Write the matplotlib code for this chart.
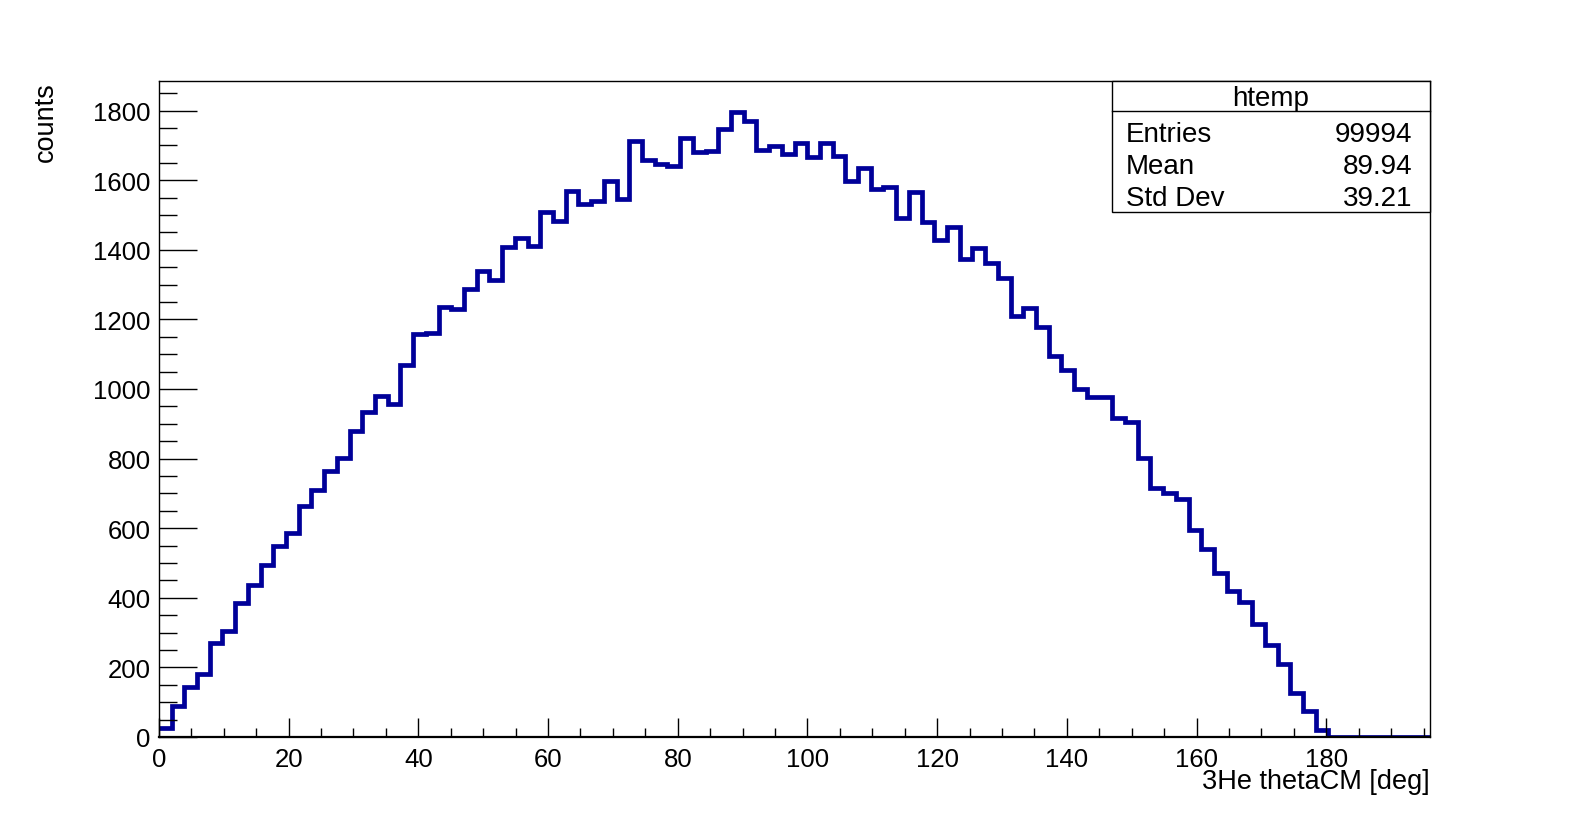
import numpy as np
import matplotlib
matplotlib.use("Agg")
import matplotlib.pyplot as plt
from matplotlib.patches import Rectangle
from matplotlib.lines import Line2D
from matplotlib.ticker import MultipleLocator

plt.rcParams['font.family'] = ['Liberation Sans', 'DejaVu Sans']

# ---------------------------
# histogram data (100 bins)
# ---------------------------
x_min, x_max, n_bins = 0.0, 196.0, 100
counts = [
    26, 90, 144, 181, 270, 306, 385, 438, 495, 550,
    587, 665, 711, 764, 802, 879, 935, 979, 957, 1069,
    1157, 1160, 1237, 1229, 1287, 1339, 1313, 1407, 1433, 1412,
    1510, 1483, 1570, 1532, 1541, 1599, 1546, 1712, 1657, 1646,
    1640, 1720, 1680, 1684, 1746, 1796, 1770, 1686, 1697, 1675,
    1707, 1666, 1707, 1670, 1597, 1634, 1576, 1580, 1491, 1566,
    1479, 1428, 1465, 1373, 1406, 1361, 1318, 1210, 1233, 1179,
    1095, 1055, 1001, 978, 976, 918, 906, 802, 716, 700,
    683, 596, 541, 472, 420, 389, 325, 263, 210, 127,
    76, 21, 0, 0, 0, 0, 0, 0, 0, 0,
]
hist_name = "htemp"
stat_labels = ["Entries", "Mean", "Std Dev"]
stat_values = ["99994", "89.94", "39.21"]
x_label = "3He thetaCM [deg]"
y_label = "counts"

edges = np.linspace(x_min, x_max, n_bins + 1)

# ---------------------------
# figure, ROOT-like frame
# ---------------------------
W, H = 1589, 820
fig = plt.figure(figsize=(W / 100, H / 100), dpi=100)
ax = fig.add_axes([0.1, 0.1, 0.8, 0.8])

ax.stairs(counts, edges, baseline=None, color='#000099', linewidth=3.4)

ax.set_xlim(x_min, x_max)
ax.set_ylim(0, 1885)

for side in ['top', 'right', 'left', 'bottom']:
    ax.spines[side].set_linewidth(1.0)
    ax.spines[side].set_color('black')
ax.spines['bottom'].set_linewidth(1.6)

ax.xaxis.set_major_locator(MultipleLocator(20))
ax.xaxis.set_minor_locator(MultipleLocator(5))
ax.yaxis.set_major_locator(MultipleLocator(200))
ax.yaxis.set_minor_locator(MultipleLocator(50))

ax.tick_params(axis='x', which='major', direction='in', length=13.7, width=1.0,
               labelsize=18.5, pad=7)
ax.tick_params(axis='x', which='minor', direction='in', length=6.5, width=1.0)
ax.tick_params(axis='y', which='major', direction='in', length=27, width=1.0,
               labelsize=18.5, pad=6)
ax.tick_params(axis='y', which='minor', direction='in', length=13, width=1.0)

# axis titles placed like ROOT (right / top aligned)
fig.text(0.9, 1 - 782 / H, x_label, ha='right', va='center', fontsize=19.5)
fig.text(46 / W, 0.9, y_label, ha='center', va='top', rotation=90, fontsize=19.5)

# ---------------------------
# stats box
# ---------------------------
bx0, bx1 = 1111.7 / W, 0.9
by0, by1 = 1 - 213 / H, 0.9
sep_y = 1 - 112 / H
fig.patches.append(Rectangle((bx0, by0), bx1 - bx0, by1 - by0, transform=fig.transFigure,
                             facecolor='white', edgecolor='black', linewidth=1.0, zorder=5))
fig.lines.append(Line2D([bx0, bx1], [sep_y, sep_y], transform=fig.transFigure,
                        color='black', linewidth=1.0, zorder=6))
fig.text((bx0 + bx1) / 2, 1 - 106 / H, hist_name, ha='center', va='baseline',
         fontsize=20, zorder=7)
row_base = [1 - 142 / H, 1 - 174 / H, 1 - 206 / H]
for lab, val, yy in zip(stat_labels, stat_values, row_base):
    fig.text(1126 / W, yy, lab, ha='left', va='baseline', fontsize=20, zorder=7)
    fig.text(1412 / W, yy, val, ha='right', va='baseline', fontsize=20, zorder=7)

fig.savefig("out.png", dpi=100)
